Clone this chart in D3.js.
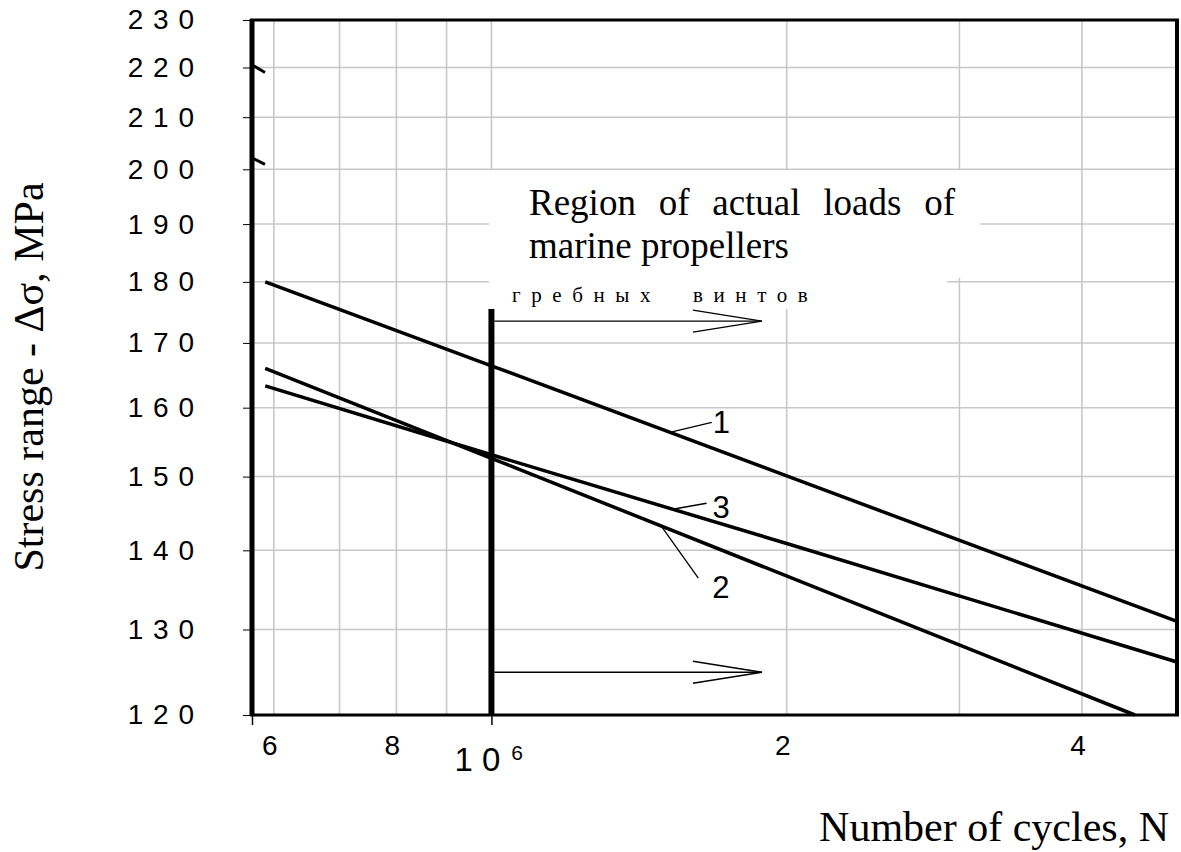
<!DOCTYPE html>
<html>
<head>
<meta charset="utf-8">
<script src="https://cdn.jsdelivr.net/npm/d3@7"></script>
<style>
  body { margin: 0; background: #fff; }
  svg { display: block; }
</style>
</head>
<body>
<svg id="chart" width="1181" height="852"></svg>
<script>
// ---------------- data ----------------
const yTicks = [120, 130, 140, 150, 160, 170, 180, 190, 200, 210, 220, 230];
const xGrid = [6e5, 7e5, 8e5, 9e5, 1e6, 2e6, 3e6, 4e6];
const xTickMarks = [5.7e5, 1e6];
const xLabelValues = [6e5, 8e5, 2e6, 4e6];
const xLabelTexts = ["6", "8", "2", "4"];

const curve1N = [5.88e5, 1e6, 2e6, 5e6];
const curve1S = [180, 166.4, 150.1, 131];
const curve2N = [5.88e5, 1e6, 4.53e6];
const curve2S = [166, 152.6, 120];
const curve3N = [5.88e5, 1e6, 2e6, 5e6];
const curve3S = [163.3, 153.1, 140.9, 126.1];
const curveNames = ["1", "2", "3"];
// points on each curve where the label leader lines start
const labelAnchorN = [1.52e6, 1.49e6, 1.53e6];

const regionN = 1e6;          // start of region of actual loads
const regionArrowEndN = 1.887e6;
const regionTopS = 175.5;
const regionArrowS = [173.5, 124.9];

// ---------------- scales ----------------
const svg = d3.select("#chart");
const x = d3.scaleLog().domain([5.7e5, 5e6]).range([252, 1177]);
const y = d3.scaleLog().domain([120, 230]).range([715, 20]);
const L = 252, R = 1177, T = 20, B = 715;

// ---------------- grid ----------------
const grid = svg.append("g");
grid.selectAll("line.h").data(yTicks.filter(d => d > 120 && d < 230)).join("line")
  .attr("x1", L).attr("x2", R).attr("y1", d => y(d)).attr("y2", d => y(d))
  .attr("stroke", "#c8c8c8").attr("stroke-width", 1.5);
grid.selectAll("line.v").data(xGrid).join("line")
  .attr("x1", d => x(d)).attr("x2", d => x(d)).attr("y1", T).attr("y2", B)
  .attr("stroke", "#c8c8c8").attr("stroke-width", 1.6);

// white text boxes covering grid
svg.append("rect").attr("x", 489).attr("y", 170).attr("width", 980 - 489).attr("height", 108).attr("fill", "#fff");
svg.append("rect").attr("x", 489).attr("y", 277).attr("width", 947 - 489).attr("height", 32).attr("fill", "#fff");

// ---------------- axes ----------------
const spaced = d => String(d).split("").join(" ");
const yAxis = svg.append("g").attr("transform", `translate(${L},0)`)
  .call(d3.axisLeft(y).tickValues(yTicks).tickSize(9).tickPadding(48).tickFormat(spaced));
yAxis.select(".domain").remove();
yAxis.selectAll(".tick line").attr("stroke", "#000").attr("stroke-width", 1);
yAxis.selectAll(".tick text")
  .attr("font-family", "Arial, 'Liberation Sans', sans-serif")
  .attr("font-size", 28).attr("fill", "#000").style("letter-spacing", "1px");

const xAxis = svg.append("g").attr("transform", `translate(0,${B})`)
  .call(d3.axisBottom(x).tickValues(xTickMarks).tickSize(10).tickFormat(""));
xAxis.select(".domain").remove();
xAxis.selectAll(".tick line").attr("stroke", "#000").attr("stroke-width", 1.5);

svg.append("g").selectAll("text").data(xLabelValues).join("text")
  .attr("x", d => x(d) - 4).attr("y", 755)
  .attr("text-anchor", "middle")
  .attr("font-family", "Arial, 'Liberation Sans', sans-serif")
  .attr("font-size", 28).attr("fill", "#000")
  .text((d, i) => xLabelTexts[i]);

const dec = svg.append("text")
  .attr("x", x(1e6) - 37).attr("y", 771)
  .attr("font-family", "Arial, 'Liberation Sans', sans-serif")
  .attr("font-size", 33).attr("fill", "#000");
dec.append("tspan").text("1 0");
dec.append("tspan").attr("dx", 11).attr("dy", -11).attr("font-size", 21).text("6");

// axis break marks
svg.append("line").attr("x1", L + 1).attr("y1", y(220) - 2).attr("x2", L + 13).attr("y2", y(220) + 5)
  .attr("stroke", "#000").attr("stroke-width", 3);
svg.append("line").attr("x1", L + 1).attr("y1", y(200) - 11).attr("x2", L + 13).attr("y2", y(200) - 5)
  .attr("stroke", "#000").attr("stroke-width", 3);

// ---------------- curves ----------------
const line = d3.line().x(d => x(d[0])).y(d => y(d[1]));
const curves = [
  d3.zip(curve1N, curve1S),
  d3.zip(curve2N, curve2S),
  d3.zip(curve3N, curve3S)
];
svg.append("g").selectAll("path").data(curves).join("path")
  .attr("d", line).attr("fill", "none").attr("stroke", "#000").attr("stroke-width", 3.5);

// curve labels with leader lines
const interp = (N, S, n) => {
  const a = Math.log10(N[0]), b = Math.log10(N[N.length - 1]);
  const sa = Math.log10(S[0]), sb = Math.log10(S[S.length - 1]);
  return Math.pow(10, sa + (Math.log10(n) - a) / (b - a) * (sb - sa));
};
const curveArrays = [[curve1N, curve1S], [curve2N, curve2S], [curve3N, curve3S]];
const leaderEnd = [[42, -10], [37, 52], [34, -6]];
const textOff = [[43, 1], [51, 72], [40, 9]];
curveNames.forEach((name, i) => {
  const n = labelAnchorN[i];
  const s = interp(curveArrays[i][0], curveArrays[i][1], n);
  const px = x(n), py = y(s);
  svg.append("line").attr("x1", px).attr("y1", py)
    .attr("x2", px + leaderEnd[i][0]).attr("y2", py + leaderEnd[i][1])
    .attr("stroke", "#000").attr("stroke-width", 1.3);
  svg.append("text").attr("x", px + textOff[i][0]).attr("y", py + textOff[i][1])
    .attr("font-family", "Arial, 'Liberation Sans', sans-serif")
    .attr("font-size", 31).attr("fill", "#000").text(name);
});

// ---------------- region of actual loads ----------------
svg.append("line").attr("x1", x(regionN)).attr("x2", x(regionN))
  .attr("y1", y(regionTopS)).attr("y2", B)
  .attr("stroke", "#000").attr("stroke-width", 6);
regionArrowS.forEach(s => {
  const yy = y(s), x0 = x(regionN) + 3, x1 = x(regionArrowEndN);
  svg.append("line").attr("x1", x0).attr("x2", x1).attr("y1", yy).attr("y2", yy)
    .attr("stroke", "#000").attr("stroke-width", 1.3);
  svg.append("polyline")
    .attr("points", `${x1 - 69},${yy - 11} ${x1},${yy} ${x1 - 69},${yy + 11}`)
    .attr("fill", "none").attr("stroke", "#000").attr("stroke-width", 1.3);
});

const serif = "'Times New Roman', 'Liberation Serif', serif";
const t1 = svg.append("text").attr("x", 529).attr("y", 215)
  .attr("font-family", serif).attr("font-size", 37).attr("fill", "#000")
  .text("Region of actual loads of");
const w1 = t1.node().getComputedTextLength();
t1.style("word-spacing", ((426 - w1) / 4) + "px");
svg.append("text").attr("x", 529).attr("y", 258)
  .attr("font-family", serif).attr("font-size", 37).attr("fill", "#000")
  .text("marine propellers");

svg.append("text").attr("x", 512).attr("y", 302)
  .attr("font-family", serif).attr("font-size", 21).attr("fill", "#000")
  .style("letter-spacing", "10.6px").style("word-spacing", "16px")
  .text("гребных винтов");

// ---------------- frame ----------------
const frame = svg.append("g").attr("stroke", "#000");
frame.append("line").attr("x1", L - 2).attr("x2", R + 2).attr("y1", T).attr("y2", T).attr("stroke-width", 3);
frame.append("line").attr("x1", L - 2).attr("x2", R + 2).attr("y1", B).attr("y2", B).attr("stroke-width", 3);
frame.append("line").attr("x1", L).attr("x2", L).attr("y1", T - 1).attr("y2", B + 1).attr("stroke-width", 5);
frame.append("line").attr("x1", R).attr("x2", R).attr("y1", T - 1).attr("y2", B + 1).attr("stroke-width", 4);

// ---------------- titles ----------------
svg.append("text").attr("transform", "translate(43,377) rotate(-90)")
  .attr("text-anchor", "middle")
  .attr("font-family", serif).attr("font-size", 42).attr("fill", "#000")
  .text("Stress range - Δσ, MPa");
svg.append("text").attr("x", 1169).attr("y", 841)
  .attr("text-anchor", "end")
  .attr("font-family", serif).attr("font-size", 42).attr("fill", "#000")
  .text("Number of cycles, N");
</script>
</body>
</html>
